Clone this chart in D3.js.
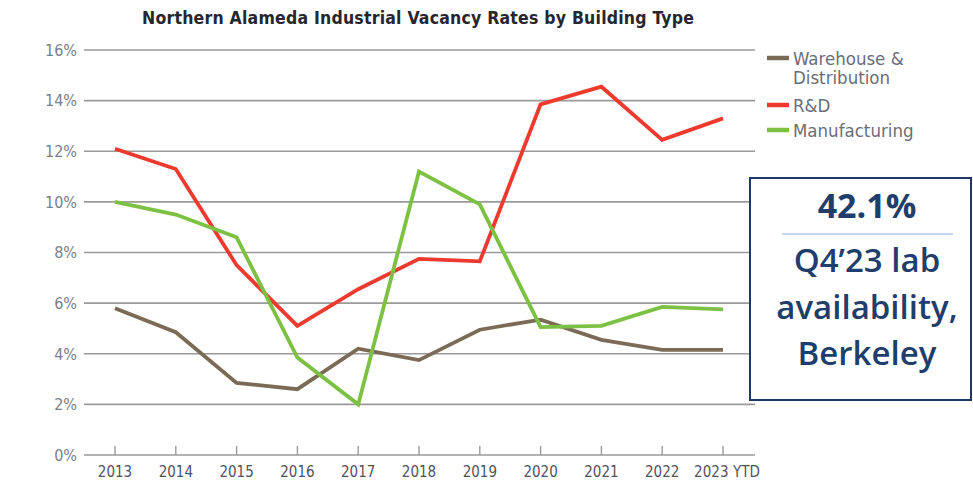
<!DOCTYPE html>
<html>
<head>
<meta charset="utf-8">
<title>Northern Alameda Industrial Vacancy Rates</title>
<style>
body { margin: 0; background: #fff; }
svg text { font-family: "DejaVu Sans Condensed", "Liberation Sans Narrow", "Roboto", sans-serif; }
.grid line { stroke: #9a9a9a; stroke-width: 1.6px; }
.series { fill: none; stroke-width: 3.8px; stroke-linejoin: miter; }
.ylab { fill: #7c7f88; font-size: 16px; }
.xlab { fill: #50535c; font-size: 15px; }
.leg { fill: #6a6d7a; font-size: 18.5px; }
.callout text { font-family: "Open Sans", "Noto Sans", sans-serif; fill: #1f3e6c; }
</style>
</head>
<body>
<script src="https://cdn.jsdelivr.net/npm/d3@7"></script>
<script>

var years = ["2013", "2014", "2015", "2016", "2017", "2018", "2019", "2020", "2021", "2022", "2023 YTD"];
var warehouse = [5.8, 4.85, 2.85, 2.6, 4.2, 3.75, 4.95, 5.35, 4.55, 4.15, 4.15];
var rd = [12.1, 11.3, 7.5, 5.1, 6.55, 7.75, 7.65, 13.85, 14.55, 12.45, 13.3];
var manufacturing = [10.0, 9.5, 8.6, 3.85, 2.0, 11.2, 9.9, 5.05, 5.1, 5.85, 5.75];
var yTicks = [0, 2, 4, 6, 8, 10, 12, 14, 16];

var series = [
  {name: ["Warehouse &", "Distribution"], values: warehouse, color: "#7b6b56"},
  {name: ["R&D"], values: rd, color: "#ee3a2e"},
  {name: ["Manufacturing"], values: manufacturing, color: "#7cc143"}
];

var width = 973, height = 485;

var svg = d3.select("body").append("svg")
    .attr("width", width)
    .attr("height", height);

var x = d3.scalePoint().domain(years).range([115, 723]);
var y = d3.scaleLinear().domain([0, 16]).range([455, 50]);

// title
svg.append("text")
    .attr("x", 418).attr("y", 24)
    .attr("text-anchor", "middle")
    .attr("textLength", 552)
    .style("font-size", "17.5px")
    .style("font-weight", "bold")
    .style("fill", "#26262e")
    .text("Northern Alameda Industrial Vacancy Rates by Building Type");

// gridlines
svg.append("g").attr("class", "grid")
  .selectAll("line")
  .data(yTicks)
  .enter().append("line")
    .attr("x1", 84).attr("x2", 755)
    .attr("y1", function(d) { return y(d); })
    .attr("y2", function(d) { return y(d); });

svg.append("g")
  .selectAll("text")
  .data(yTicks)
  .enter().append("text")
    .attr("class", "ylab")
    .attr("x", 77)
    .attr("y", function(d) { return y(d); })
    .attr("dy", "0.36em")
    .attr("text-anchor", "end")
    .text(function(d) { return d + "%"; });

// x axis ticks & labels
var xg = svg.append("g").attr("transform", "translate(0," + y(0) + ")");
xg.selectAll("line")
  .data(years)
  .enter().append("line")
    .attr("x1", function(d) { return x(d); })
    .attr("x2", function(d) { return x(d); })
    .attr("y1", -9).attr("y2", 0)
    .attr("stroke", "#9a9a9a").attr("stroke-width", 1.4);
xg.selectAll("text")
  .data(years)
  .enter().append("text")
    .attr("class", "xlab")
    .attr("x", function(d, i) { return x(d) + (i == years.length - 1 ? 4 : 0); })
    .attr("y", 22)
    .attr("text-anchor", "middle")
    .attr("textLength", function(d, i) { return i == years.length - 1 ? 66 : null; })
    .text(function(d) { return d; });

// lines
var line = d3.line()
    .x(function(d, i) { return x(years[i]); })
    .y(function(d) { return y(d); });

svg.append("g")
  .selectAll("path")
  .data(series)
  .enter().append("path")
    .attr("class", "series")
    .attr("stroke", function(d) { return d.color; })
    .attr("d", function(d) { return line(d.values); });

// legend
var legY = [58, 105, 130];
var leg = svg.append("g")
  .selectAll("g")
  .data(series)
  .enter().append("g")
    .attr("transform", function(d, i) { return "translate(767," + legY[i] + ")"; });
leg.append("line")
    .attr("x1", 0).attr("x2", 22)
    .attr("stroke", function(d) { return d.color; })
    .attr("stroke-width", 4.5);
leg.append("text")
    .attr("class", "leg")
    .attr("y", 7)
    .selectAll("tspan")
    .data(function(d) { return d.name; })
    .enter().append("tspan")
      .attr("x", 26)
      .attr("dy", function(d, i) { return i ? 19 : 0; })
      .text(function(d) { return d; });

// callout box
var box = svg.append("g").attr("class", "callout");
box.append("rect")
    .attr("x", 750).attr("y", 178)
    .attr("width", 221).attr("height", 222)
    .attr("fill", "#fff")
    .attr("stroke", "#1f3864")
    .attr("stroke-width", 2);
box.append("text")
    .attr("x", 867).attr("y", 218)
    .attr("text-anchor", "middle")
    .style("font-size", "34px")
    .style("font-weight", "bold")
    .text("42.1%");
box.append("line")
    .attr("x1", 782).attr("x2", 953)
    .attr("y1", 234).attr("y2", 234)
    .attr("stroke", "#8eaadb").attr("stroke-width", 1.2);
var boxLines = ["Q4’23 lab", "availability,", "Berkeley"];
box.selectAll("text.bl")
  .data(boxLines)
  .enter().append("text")
    .attr("class", "bl")
    .attr("x", 867)
    .attr("y", function(d, i) { return 272 + i * 46.5; })
    .attr("text-anchor", "middle")
    .style("font-size", "33px")
    .style("font-weight", "600")
    .text(function(d) { return d; });

</script>
</body>
</html>
